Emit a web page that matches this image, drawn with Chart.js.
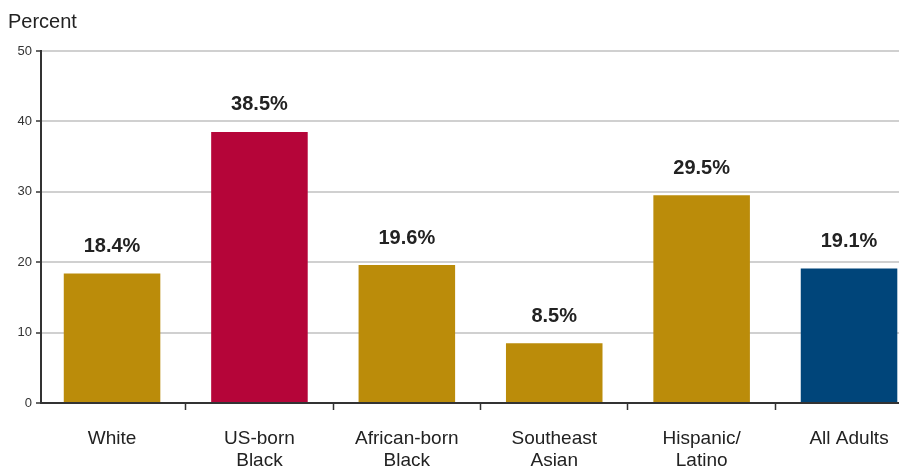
<!DOCTYPE html>
<html>
<head>
<meta charset="utf-8">
<script src="https://cdn.jsdelivr.net/npm/chart.js@4/dist/chart.umd.min.js"></script>
<style>
  html, body { margin: 0; padding: 0; overflow: hidden; background: #fff; }
  #wrap { width: 899px; height: 470px; }
</style>
</head>
<body>
<div id="wrap"><canvas id="c" width="899" height="470"></canvas></div>
<script>
// Share of adults, by group
const categories = [
  ["White"],
  ["US-born", "Black"],
  ["African-born", "Black"],
  ["Southeast", "Asian"],
  ["Hispanic/", "Latino"],
  ["All Adults"]
];
const percentValues = [18.4, 38.5, 19.6, 8.5, 29.5, 19.1];
const barColors = ["#bb8c0a", "#b50539", "#bb8c0a", "#bb8c0a", "#bb8c0a", "#00457a"];
const yTicks = [0, 10, 20, 30, 40, 50];

const FONT = "'Liberation Sans', Arial, Helvetica, sans-serif";

// x runs over category slots; the last slot is partly cut off at the right edge
const X_MIN = -0.482;
const X_MAX = 5.339;

// Writes the value above each bar and the axis caption
const valueLabels = {
  id: 'valueLabels',
  afterDatasetsDraw(chart) {
    const ctx = chart.ctx;
    const meta = chart.getDatasetMeta(0);
    ctx.save();
    ctx.fillStyle = '#222';
    ctx.font = 'bold 20px ' + FONT;
    ctx.textAlign = 'center';
    ctx.textBaseline = 'middle';
    meta.data.forEach((bar, i) => {
      ctx.fillText(percentValues[i].toFixed(1) + '%', bar.x, bar.y - 27);
    });
    ctx.font = '20px ' + FONT;
    ctx.textAlign = 'left';
    ctx.textBaseline = 'alphabetic';
    ctx.fillText('Percent', 8, 28);
    ctx.restore();
  }
};

new Chart(document.getElementById('c'), {
  type: 'bar',
  data: {
    datasets: [{
      data: percentValues.map((v, i) => ({ x: i, y: v })),
      backgroundColor: barColors,
      borderWidth: 0,
      categoryPercentage: 1,
      barPercentage: 0.655
    }]
  },
  options: {
    responsive: false,
    animation: false,
    layout: { padding: { top: 51, right: 0, left: 0, bottom: 0 } },
    plugins: { legend: { display: false }, tooltip: { enabled: false } },
    scales: {
      x: {
        type: 'linear',
        offset: false,
        min: X_MIN,
        max: X_MAX,
        afterBuildTicks(scale) { scale.ticks = categories.map((_, i) => ({ value: i })); },
        grid: {
          offset: true,
          drawOnChartArea: false,
          drawTicks: true,
          tickLength: 7,
          tickColor: '#333',
          tickWidth: 1.5
        },
        border: { color: '#333', width: 2 },
        ticks: {
          color: '#222',
          font: { family: FONT, size: 19 },
          padding: 17,
          maxRotation: 0,
          autoSkip: false,
          callback: (v) => categories[v]
        },
        afterFit(scale) {
          scale.height = 67;
          scale.paddingLeft = 0;
          scale.paddingRight = 0;
        }
      },
      y: {
        min: 0,
        max: 50,
        afterBuildTicks(scale) { scale.ticks = yTicks.map(v => ({ value: v })); },
        grid: {
          color: '#d0d0d0',
          lineWidth: 2,
          tickLength: 5,
          tickColor: '#333',
          tickWidth: 1.5
        },
        border: { color: '#333', width: 2 },
        ticks: {
          color: '#333',
          font: { family: FONT, size: 13 },
          padding: 4
        },
        afterFit(scale) { scale.width = 41; }
      }
    }
  },
  plugins: [valueLabels]
});
</script>
</body>
</html>
